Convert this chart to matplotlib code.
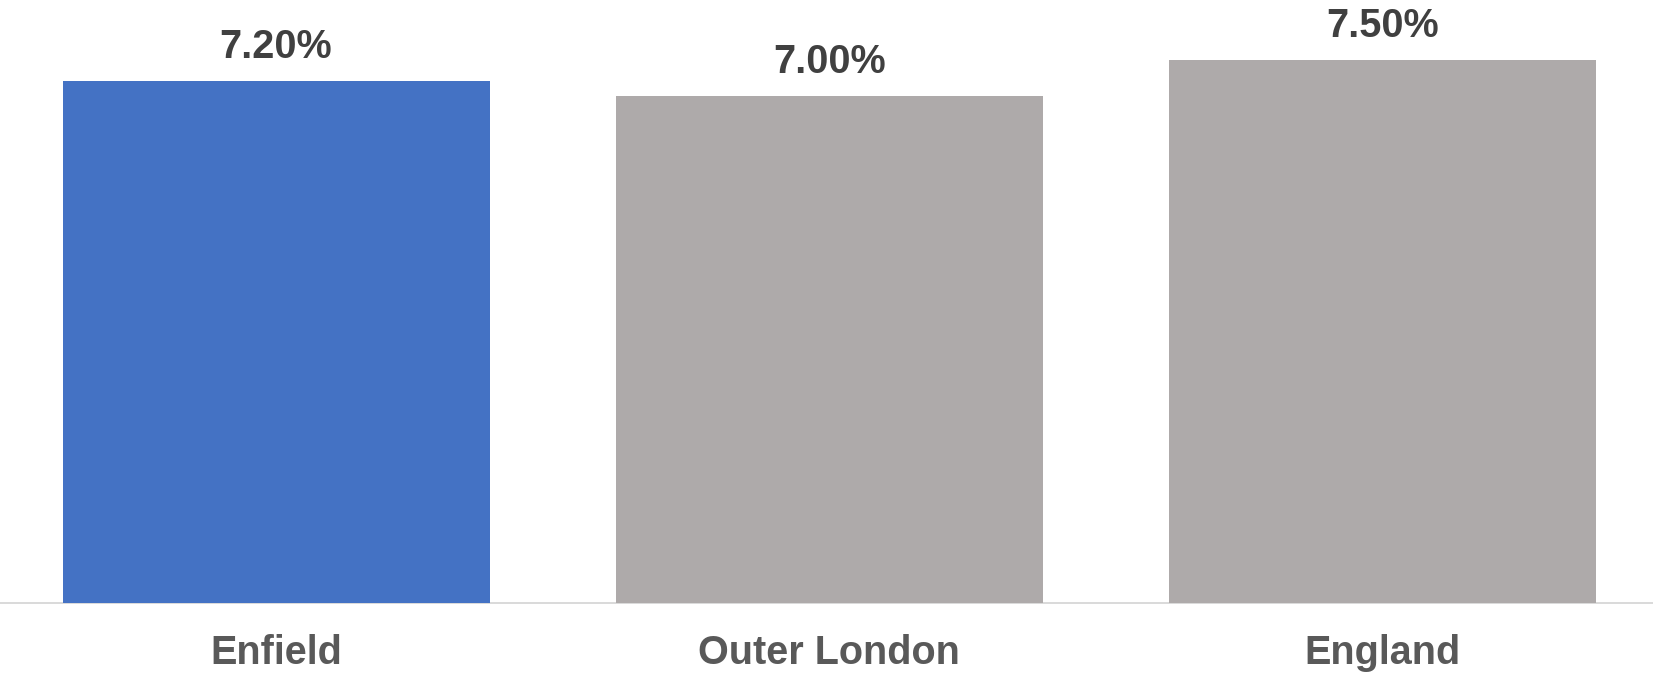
import matplotlib
matplotlib.use("Agg")
import matplotlib.pyplot as plt

# Share of population (%)
categories = ["Enfield", "Outer London", "England"]
values = [7.2, 7.0, 7.5]
bar_colors = ["#4472C4", "#AEAAAA", "#AEAAAA"]

W, H, DPI = 1653, 677, 100
fig = plt.figure(figsize=(W / DPI, H / DPI), dpi=DPI)
fig.patch.set_facecolor("white")

base_px = 74.5  # axis line height from the bottom, in pixels
ax = fig.add_axes([0, base_px / H, 1, (H - base_px) / H])

px_per_cat = 553.1
first_center = 276.0
xpos = list(range(len(categories)))
ax.bar(xpos, values, width=427 / px_per_cat, color=bar_colors, zorder=2)

ax.set_xlim(-first_center / px_per_cat, (W - first_center) / px_per_cat)
ax.set_ylim(0, (H - base_px) / 72.4)

for s in ["top", "right", "left"]:
    ax.spines[s].set_visible(False)
ax.spines["bottom"].set_color("#D9D9D9")
ax.spines["bottom"].set_linewidth(1.4)
ax.spines["bottom"].set_zorder(1)
ax.yaxis.set_visible(False)

font = ["Liberation Sans", "DejaVu Sans"]

ax.set_xticks(xpos)
ax.set_xticklabels(categories, fontsize=28.5, fontweight="bold",
                   color="#595959", family=font)
ax.tick_params(axis="x", length=0, pad=44.6)
for lbl in ax.get_xticklabels():
    lbl.set_verticalalignment("baseline")

for x, v in zip(xpos, values):
    ax.annotate(f"{v:.2f}%", xy=(x, v), xytext=(0, 16.5),
                textcoords="offset points", ha="center", va="baseline",
                fontsize=28.5, fontweight="bold", color="#404040", family=font)

fig.savefig("out.png", dpi=DPI, facecolor="white")
